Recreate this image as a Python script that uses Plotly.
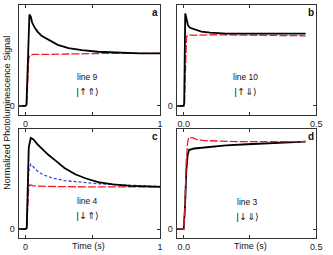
import plotly.graph_objects as go

# Panel a (line 9)
a_t_black = [-0.05, 0.0, 0.008, 0.015, 0.022, 0.03, 0.04, 0.05, 0.07, 0.09, 0.12, 0.175, 0.24, 0.32, 0.42, 0.54, 0.7, 0.85, 1.0]
a_v_black = [0, 0, 0.02, 0.6, 1.45, 1.72, 1.68, 1.57, 1.47, 1.40, 1.32, 1.24, 1.15, 1.09, 1.05, 1.02, 1.0, 0.99, 0.99]
a_t_red = [-0.05, 0.0, 0.01, 0.018, 0.025, 0.035, 0.06, 0.15, 0.3, 0.45, 0.6, 0.8, 1.0]
a_v_red = [0, 0, 0.02, 0.5, 0.9, 0.96, 0.97, 0.97, 0.98, 0.98, 0.99, 0.99, 0.99]

# Panel b (line 10)
b_t_black = [-0.026, 0.0, 0.002, 0.004, 0.006, 0.01, 0.016, 0.024, 0.04, 0.067, 0.1, 0.16, 0.25, 0.35, 0.46]
b_v_black = [0, 0, 0.05, 1.2, 1.74, 1.66, 1.52, 1.47, 1.44, 1.40, 1.38, 1.36, 1.36, 1.36, 1.36]
b_t_red = [-0.026, 0.0, 0.003, 0.007, 0.011, 0.02, 0.04, 0.1, 0.2, 0.3, 0.46]
b_v_red = [0, 0, 0.05, 0.9, 1.31, 1.34, 1.33, 1.34, 1.34, 1.33, 1.32]

# Panel c (line 4)
c_t_black = [-0.05, 0.0, 0.01, 0.018, 0.025, 0.04, 0.06, 0.09, 0.126, 0.17, 0.224, 0.29, 0.37, 0.45, 0.54, 0.65, 0.78, 0.9, 1.0]
c_v_black = [0, 0, 0.02, 0.8, 1.55, 1.73, 1.70, 1.61, 1.52, 1.41, 1.30, 1.16, 1.04, 0.96, 0.89, 0.85, 0.82, 0.81, 0.80]
c_t_blue = [-0.05, 0.0, 0.01, 0.018, 0.025, 0.04, 0.06, 0.09, 0.126, 0.2, 0.29, 0.4, 0.54, 0.7, 0.85, 1.0]
c_v_blue = [0, 0, 0.02, 0.6, 1.1, 1.23, 1.18, 1.10, 1.04, 0.97, 0.92, 0.89, 0.86, 0.84, 0.82, 0.81]
c_t_red = [-0.05, 0.0, 0.01, 0.018, 0.025, 0.035, 0.06, 0.15, 0.3, 0.5, 0.7, 1.0]
c_v_red = [0, 0, 0.02, 0.5, 0.80, 0.84, 0.82, 0.81, 0.80, 0.80, 0.80, 0.80]

# Panel d (line 3)
d_t_red = [-0.026, 0.0, 0.004, 0.01, 0.015, 0.02, 0.035, 0.05, 0.078, 0.12, 0.2, 0.3, 0.46]
d_v_red = [0, 0, 0.3, 1.3, 1.65, 1.74, 1.73, 1.70, 1.68, 1.67, 1.66, 1.66, 1.66]
d_t_black = [-0.026, 0.0, 0.005, 0.01, 0.015, 0.02, 0.04, 0.078, 0.16, 0.24, 0.31, 0.4, 0.46]
d_v_black = [0, 0, 0.4, 1.1, 1.4, 1.50, 1.53, 1.55, 1.59, 1.61, 1.63, 1.65, 1.66]

panel_labels = ["a", "b", "c", "d"]
line_names = ["line 9", "line 10", "line 4", "line 3"]
kets = ["|↑⇑⟩", "|↑⇓⟩", "|↓⇑⟩", "|↓⇓⟩"]

x_tickvals_1 = [0, 0.5, 1]
x_ticktext_1 = ["0", "", "1"]
x_tickvals_05 = [0, 0.25, 0.5]
x_ticktext_05 = ["0.0", "", "0.5"]

W, H = 333, 255
left_dom = [19 / W, 163 / W]
right_dom = [180 / W, 322 / W]
top_dom = [1 - 115 / H, 1 - 5 / H]
bot_dom = [1 - 238 / H, 1 - 129 / H]

BLACK = "#000000"
RED = "#ee1c24"
BLUE = "#2b4ee8"

fig = go.Figure()

def add(x, y, axis, color, dash, width):
    fig.add_trace(go.Scatter(x=x, y=y, mode="lines", xaxis="x" + axis, yaxis="y" + axis,
                             line=dict(color=color, dash=dash, width=width),
                             showlegend=False, hoverinfo="skip"))

RED_DASH = "8px,2px"
add(a_t_red, a_v_red, "", RED, RED_DASH, 1.3)
add(a_t_black, a_v_black, "", BLACK, "solid", 1.8)
add(b_t_red, b_v_red, "2", RED, RED_DASH, 1.3)
add(b_t_black, b_v_black, "2", BLACK, "solid", 1.8)
add(c_t_red, c_v_red, "3", RED, RED_DASH, 1.3)
add(c_t_blue, c_v_blue, "3", BLUE, "3px,2px", 1.3)
add(c_t_black, c_v_black, "3", BLACK, "solid", 1.8)
add(d_t_black, d_v_black, "4", BLACK, "solid", 1.8)
add(d_t_red, d_v_red, "4", RED, RED_DASH, 1.3)

SANS = "Liberation Sans, Arial, sans-serif"
font = dict(family=SANS, size=9, color="#222")
axcommon = dict(showgrid=False, zeroline=False, showline=True, mirror="ticks",
                linecolor="#333", linewidth=1.3, ticks="inside", ticklen=3,
                tickcolor="#333", tickfont=font)

yax = dict(axcommon, range=[-0.17, 1.9], tickvals=[0], ticktext=["0"], ticklabelstandoff=1)

layout = dict(
    width=W, height=H, margin=dict(l=0, r=0, t=0, b=0),
    paper_bgcolor="white", plot_bgcolor="white", font=font,
    xaxis=dict(axcommon, domain=left_dom, anchor="y", range=[-0.05, 1.0],
               tickvals=x_tickvals_1, ticktext=x_ticktext_1, ticklabelstandoff=0),
    yaxis=dict(yax, domain=top_dom, anchor="x"),
    xaxis2=dict(axcommon, domain=right_dom, anchor="y2", range=[-0.026, 0.5],
                tickvals=x_tickvals_05, ticktext=x_ticktext_05, ticklabelstandoff=0),
    yaxis2=dict(yax, domain=top_dom, anchor="x2"),
    xaxis3=dict(axcommon, domain=left_dom, anchor="y3", range=[-0.05, 1.0],
                tickvals=x_tickvals_1, ticktext=x_ticktext_1, ticklabelstandoff=0),
    yaxis3=dict(yax, domain=bot_dom, anchor="x3"),
    xaxis4=dict(axcommon, domain=right_dom, anchor="y4", range=[-0.026, 0.5],
                tickvals=x_tickvals_05, ticktext=x_ticktext_05, ticklabelstandoff=0),
    yaxis4=dict(yax, domain=bot_dom, anchor="x4"),
)
fig.update_layout(**layout)

def px(x, y):
    return x / W, 1 - y / H

def note(cx, cy, text, family, size, angle=0):
    x, y = px(cx, cy)
    return dict(x=x, y=y, xref="paper", yref="paper", text=text, showarrow=False,
                xanchor="center", yanchor="middle", borderpad=0, textangle=angle,
                font=dict(family=family, size=size, color="#111"))

ann = []
centers = [(89, 77), (250, 77), (89, 201), (252, 202)]
letter_pos = [(158, 12), (317, 12), (158, 136), (317, 136)]
for i in range(4):
    cx, cy = centers[i]
    ann.append(note(cx, cy, line_names[i], SANS, 8.5))
    ann.append(note(cx, cy + 14, kets[i], "DejaVu Sans, sans-serif", 9.5))
    lx, ly = letter_pos[i]
    ann.append(note(lx, ly, "<b>" + panel_labels[i] + "</b>", SANS, 10))

for cx in (90, 255):
    ann.append(note(cx, 246, "Time (s)", SANS, 9))

ann.append(note(7, 113, "Normalized Photoluminescence Signal", SANS, 9, angle=-90))

fig.update_layout(annotations=ann)
fig.write_html("out.html", config={"displayModeBar": False},
               post_script="document.body.style.margin='0';document.body.style.padding='0';")
